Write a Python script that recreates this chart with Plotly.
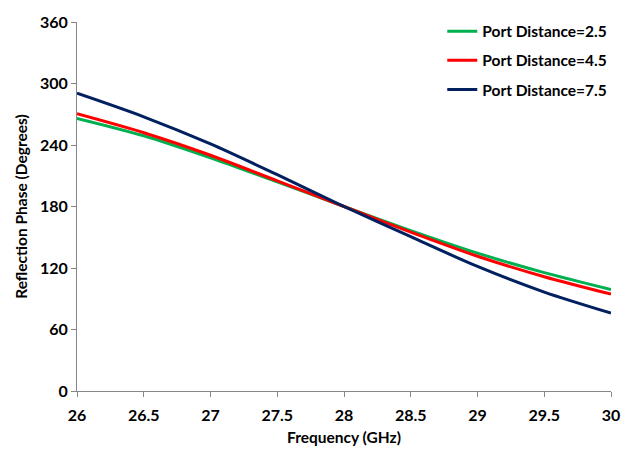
import plotly.graph_objects as go

# Frequency sweep (GHz) and reflection phase (degrees) per port distance
freq_ghz = [26, 26.5, 27, 27.5, 28, 28.5, 29, 29.5, 30]
phase_pd_2_5 = [266, 249, 227.5, 204, 180, 156.5, 134.5, 115.5, 99]
phase_pd_4_5 = [270.5, 252, 230, 205, 180, 155, 131.5, 111.5, 94.5]
phase_pd_7_5 = [290.5, 267.5, 241, 211, 180, 150.5, 121.5, 96.5, 76]

series_names = ["Port Distance=2.5", "Port Distance=4.5", "Port Distance=7.5"]
series_colors = ["#00B050", "#FF0000", "#002060"]

x_ticks = [26, 26.5, 27, 27.5, 28, 28.5, 29, 29.5, 30]
y_ticks = [0, 60, 120, 180, 240, 300, 360]

font_family = "Lato, 'Open Sans', sans-serif"

fig = go.Figure()
for i, (name, ys, col) in enumerate(
    zip(series_names, [phase_pd_2_5, phase_pd_4_5, phase_pd_7_5], series_colors)
):
    fig.add_trace(
        go.Scatter(
            x=freq_ghz,
            y=ys,
            mode="lines",
            name=name,
            legendgroup=f"g{i}",
            line=dict(color=col, width=3, shape="spline", smoothing=0.8),
        )
    )

axis_color = "#868686"
fig.update_layout(
    width=635,
    height=455,
    margin=dict(l=77, r=24, t=18, b=62),
    paper_bgcolor="white",
    plot_bgcolor="white",
    font=dict(family=font_family, color="black"),
    showlegend=True,
    legend=dict(
        x=0.684,
        y=1.02,
        xanchor="left",
        yanchor="top",
        bgcolor="rgba(0,0,0,0)",
        font=dict(size=15.5, family=font_family, color="black", weight="bold"),
        tracegroupgap=6,
        itemwidth=30,
    ),
    xaxis=dict(
        range=[26, 30],
        tickvals=x_ticks,
        ticktext=[f"{v:g}" for v in x_ticks],
        showgrid=False,
        zeroline=False,
        showline=True,
        linecolor=axis_color,
        linewidth=1,
        ticks="outside",
        ticklen=5,
        tickcolor=axis_color,
        ticklabelstandoff=5,
        tickfont=dict(size=16, weight="bold"),
        title=dict(
            text="Frequency (GHz)",
            font=dict(size=15.5, weight="bold"),
            standoff=8,
        ),
    ),
    yaxis=dict(
        range=[0, 360],
        tickvals=y_ticks,
        showgrid=False,
        zeroline=False,
        showline=True,
        linecolor=axis_color,
        linewidth=1,
        ticks="outside",
        ticklen=5,
        tickcolor=axis_color,
        tickfont=dict(size=16, weight="bold"),
        title=dict(
            text="Reflection Phase (Degrees)",
            font=dict(size=15.5, weight="bold"),
            standoff=8,
        ),
    ),
)

fig.write_html("out.html")
